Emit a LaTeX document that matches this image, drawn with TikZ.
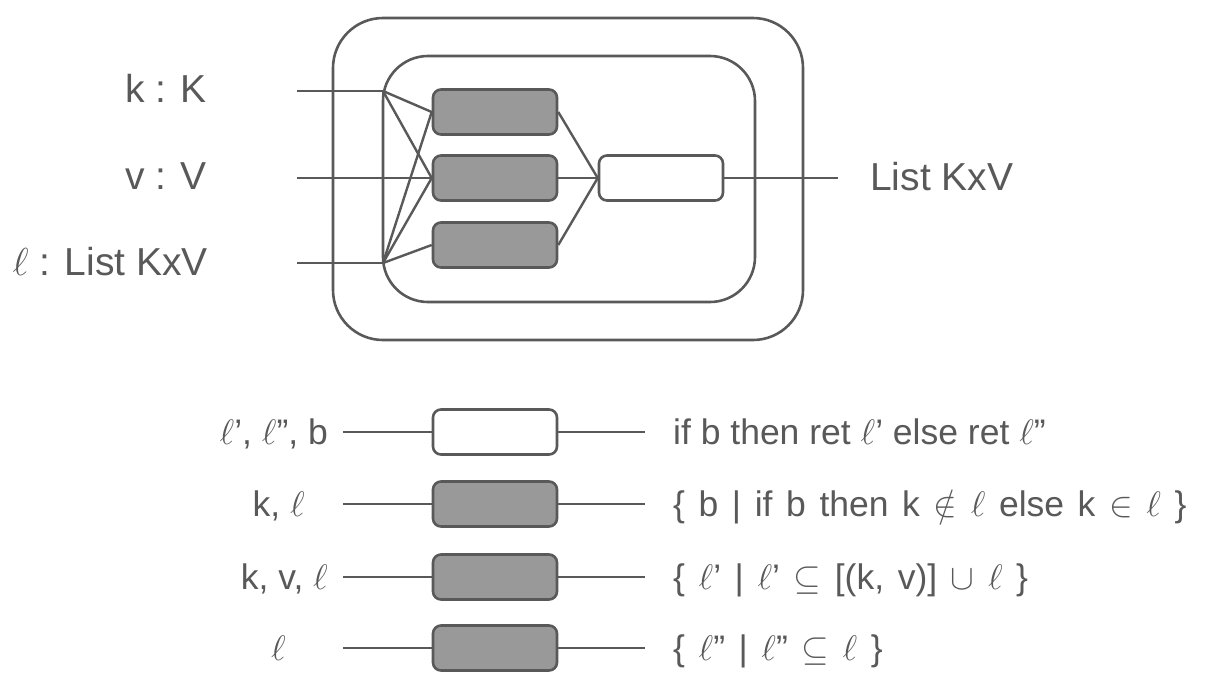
\RequirePackage{fix-cm}
\documentclass[tikz,border=0pt]{standalone}
\usepackage{fontspec}
\setmainfont{Liberation Sans}
\definecolor{ink}{HTML}{595959}
\definecolor{boxgray}{HTML}{999999}
% wider interword spaces for the set expressions
\newcommand{\widespaces}{\spaceskip=13.6pt\relax}
\tikzset{
  wire/.style={draw=ink, line width=2.4pt},
  frame/.style={draw=ink, line width=2.6pt, rectangle, inner sep=0pt},
  opbox/.style={draw=ink, line width=2.6pt, rectangle, rounded corners=8pt,
    minimum width=124pt, minimum height=45pt, inner sep=0pt},
  graybox/.style={opbox, fill=boxgray},
  whitebox/.style={opbox, fill=white},
  biglabel/.style={text=ink, inner sep=0pt, font=\fontsize{39}{46}\selectfont},
  smalllabel/.style={text=ink, inner sep=0pt, font=\fontsize{35.5}{42}\selectfont},
}
\begin{document}
\begin{tikzpicture}[x=1pt, y=-1pt]
\useasboundingbox (0,0) rectangle (1210,697);

% nested frames
\node[frame, rounded corners=50pt, minimum width=470pt, minimum height=322pt] (outer) at (568,179) {};
\node[frame, rounded corners=45pt, minimum width=372pt, minimum height=246pt] (inner) at (569,179) {};

% operator boxes
\node[graybox] (g1) at (495,112) {};
\node[graybox] (g2) at (495,178) {};
\node[graybox] (g3) at (495,245) {};
\node[whitebox] (w) at (661,178) {};

% input ends and junctions
\coordinate (it) at (297,91);
\coordinate (im) at (297,178);
\coordinate (ib) at (297,263);
\coordinate (jt) at (383,91);
\coordinate (jb) at (383,263);
\coordinate (out) at (838,178);

\draw[wire] (it) -- (jt);
\draw[wire] (ib) -- (jb);
\draw[wire] (jt) -- (jb);
\draw[wire] (im) -- (g2.west);
\draw[wire] (jt) -- (g1.west);
\draw[wire] (jt) -- (g2.west);
\draw[wire] (jb) -- (g1.west);
\draw[wire] (jb) -- (g2.west);
\draw[wire] (jb) -- (g3.west);
\draw[wire] (g1.east) -- (w.west);
\draw[wire] (g2.east) -- (w.west);
\draw[wire] (g3.east) -- (w.west);
\draw[wire] (w.east) -- (out);

% top labels
\node[biglabel, anchor=base east] (lk) at (207,102) {k : K};
\node[biglabel, anchor=base east] (lv) at (207,189) {v : V};
\node[biglabel, anchor=base east] (ll) at (208,275) {$\ell$ : List KxV};
\node[biglabel, anchor=base west] (lo) at (870,190) {List KxV};

% legend rows
\foreach \name/\y/\style in {r1/432/whitebox, r2/504/graybox, r3/577/graybox, r4/648/graybox}{
  \node[\style] (\name) at (495,\y) {};
  \coordinate (\name l) at (343,\y);
  \coordinate (\name r) at (645,\y);
  \draw[wire] (\name l) -- (\name.west);
  \draw[wire] (\name.east) -- (\name r);
}

\node[smalllabel, anchor=base east] (a1) at (328,444) {$\ell$’, $\ell$”, b};
\node[smalllabel, anchor=base east] (a2) at (305,516) {k, $\ell$};
\node[smalllabel, anchor=base east] (a3) at (328,589) {k, v, $\ell$};
\node[smalllabel, anchor=base east] (a4) at (286,660) {$\ell$};

\node[smalllabel, anchor=base west] (b1) at (673,444) {if b then ret $\ell$’ else ret $\ell$”};
\node[smalllabel, anchor=base west] (b2) at (673,516) {\widespaces \{ b | if b then k $\notin$ $\ell$ else k $\in$ $\ell$ \}};
\node[smalllabel, anchor=base west] (b3) at (673,589) {\widespaces \{ $\ell$’ | $\ell$’ $\subseteq$ [(k, v)] $\cup$ $\ell$ \}};
\node[smalllabel, anchor=base west] (b4) at (673,660) {\widespaces \{ $\ell$” | $\ell$” $\subseteq$ $\ell$ \}};
\end{tikzpicture}
\end{document}
